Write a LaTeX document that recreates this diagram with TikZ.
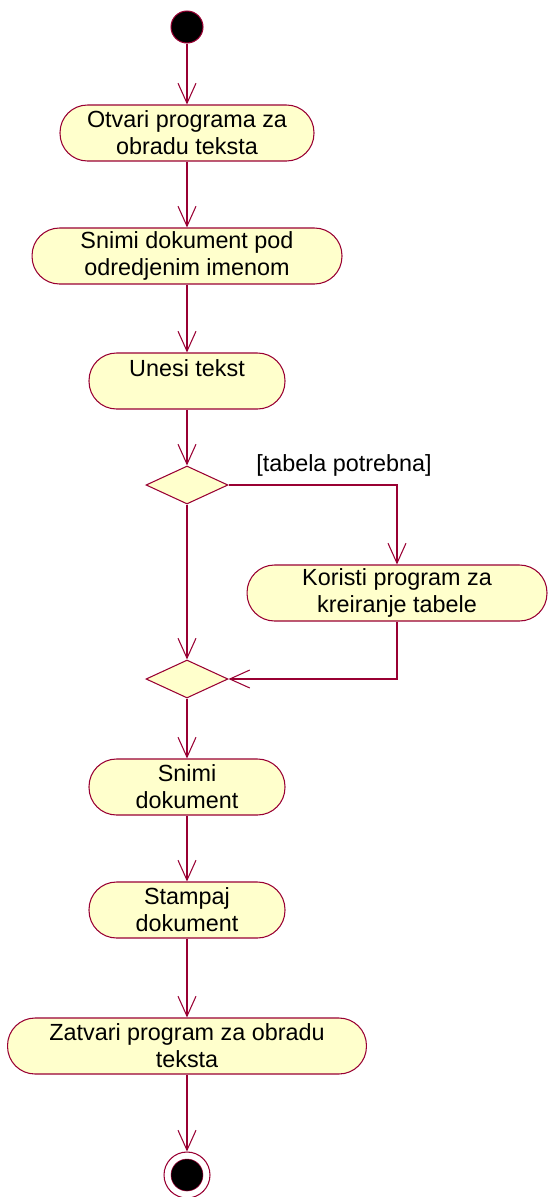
\documentclass[tikz,border=0pt]{standalone}
\usepackage{fontspec}
\setmainfont{Liberation Sans}
\usetikzlibrary{arrows.meta,shapes.geometric}
\definecolor{rosered}{RGB}{153,0,51}
\definecolor{roseyellow}{RGB}{255,255,204}

\begin{document}
\begin{tikzpicture}[x=0.02cm,y=-0.02cm,
	act/.style={draw=rosered,fill=roseyellow,line width=0.6pt,rounded corners=0.55cm,
		minimum height=1.12cm,inner sep=0pt,align=center,
		font=\fontsize{13.3}{15.3}\selectfont},
	branch/.style={diamond,draw=rosered,fill=roseyellow,line width=0.6pt,
		minimum width=1.64cm,minimum height=0.76cm,inner sep=0pt},
	flow/.style={draw=rosered,line width=0.6pt,-{Straight Barb[length=0.4cm,width=0.36cm]}}]
	\useasboundingbox (0,0) rectangle (549,1197);
	% start and end
	\node[circle,draw=rosered,fill=black,line width=0.6pt,minimum size=0.64cm,inner sep=0pt] (start) at (187,27) {};
	\node[circle,draw=rosered,line width=0.6pt,minimum size=0.92cm,inner sep=0pt] (stop) at (187,1175) {};
	\node[circle,fill=black,draw=rosered,line width=0.3pt,minimum size=0.64cm,inner sep=0pt] (stopdot) at (stop.center) {};
	% activities
	\node[act,minimum width=5.08cm] (otvori) at (187,133) {Otvari programa za\\obradu teksta};
	\node[act,minimum width=6.2cm] (snimiime) at (187,256) {Snimi dokument pod\\odredjenim imenom};
	\node[act,minimum width=3.92cm] (unesi) at (187,381) {Unesi tekst\\\mbox{}};
	\node[act,minimum width=6.0cm] (koristi) at (397,593) {Koristi program za\\kreiranje tabele};
	\node[act,minimum width=3.92cm] (snimi) at (187,787) {Snimi\\dokument};
	\node[act,minimum width=3.92cm] (stampaj) at (187,910) {Stampaj\\dokument};
	\node[act,minimum width=7.18cm] (zatvori) at (187,1046) {Zatvari program za obradu\\teksta};
	% decisions
	\node[branch] (d1) at (187,485) {};
	\node[branch] (d2) at (187,679) {};
	\node[font=\fontsize{13.3}{15.3}\selectfont] (guard) at (344,465) {[tabela potrebna]};
	% flows
	\draw[flow] (start) -- (otvori);
	\draw[flow] (otvori) -- (snimiime);
	\draw[flow] (snimiime) -- (unesi);
	\draw[flow] (unesi) -- (d1);
	\draw[flow] (d1.east) -| (koristi.north);
	\draw[flow] (koristi.south) |- (d2.east);
	\draw[flow] (d1.south) -- (d2.north);
	\draw[flow] (d2) -- (snimi);
	\draw[flow] (snimi) -- (stampaj);
	\draw[flow] (stampaj) -- (zatvori);
	\draw[flow] (zatvori) -- (stop);
\end{tikzpicture}
\end{document}
